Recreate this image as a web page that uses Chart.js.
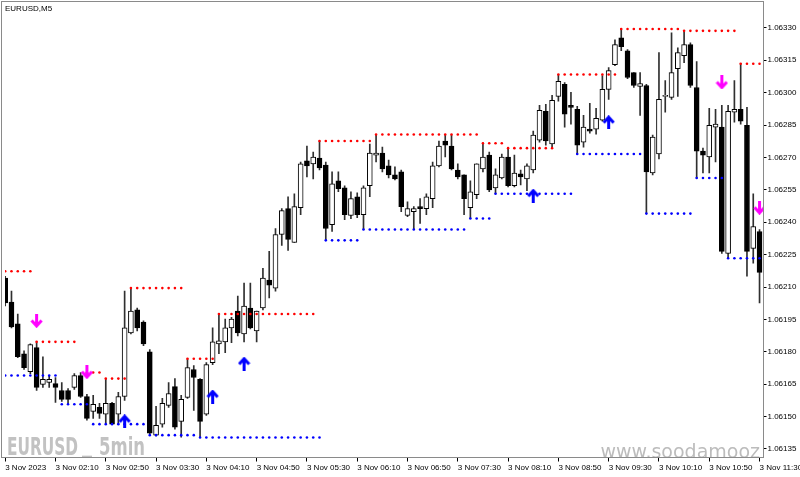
<!DOCTYPE html>
<html>
<head>
<meta charset="utf-8">
<script src="https://cdn.jsdelivr.net/npm/chart.js@4.4.0/dist/chart.umd.min.js"></script>
<style>
  html, body { margin: 0; padding: 0; background: #fff; }
  canvas { display: block; }
</style>
</head>
<body>
<canvas id="chart" width="800" height="477"></canvas>
<script>
// EURUSD M5, 3 Nov 2023 01:30 .. 11:30, one candle per 5 minutes (index 0..120)
const opens = [
  1.062141, 1.062030, 1.061929, 1.061791, 1.061708, 1.061819, 1.061649, 1.061658, 1.061653, 1.061621,
  1.061621, 1.061635, 1.061690, 1.061593, 1.061524, 1.061543, 1.061511, 1.061561, 1.061511, 1.061593,
  1.061888, 1.061994, 1.061938, 1.061800, 1.061414, 1.061465, 1.061552, 1.061639, 1.061478, 1.061589,
  1.061718, 1.061672, 1.061511, 1.061750, 1.061837, 1.061846, 1.061911, 1.061989, 1.061883, 1.062003,
  1.061897, 1.062003, 1.062132, 1.062095, 1.062343, 1.062463, 1.062306, 1.062467, 1.062684, 1.062670,
  1.062697, 1.062665, 1.062389, 1.062592, 1.062559, 1.062431, 1.062518, 1.062435, 1.062569, 1.062711,
  1.062720, 1.062661, 1.062619, 1.062633, 1.062431, 1.062449, 1.062472, 1.062463, 1.062509, 1.062661,
  1.062776, 1.062753, 1.062642, 1.062619, 1.062467, 1.062527, 1.062647, 1.062711, 1.062559, 1.062605,
  1.062702, 1.062569, 1.062624, 1.062601, 1.062642, 1.062780, 1.062914, 1.062762, 1.062983, 1.063038,
  1.062941, 1.062923, 1.062771, 1.062831, 1.062831, 1.062872, 1.063015, 1.063130, 1.063254, 1.063194,
  1.063093, 1.063029, 1.063033, 1.062628, 1.062716, 1.062983, 1.062978, 1.063111, 1.063171, 1.063222,
  1.063024, 1.062729, 1.062702, 1.062840, 1.062840, 1.062256, 1.062909, 1.062923, 1.062849, 1.062279,
  1.062357
];
const highs = [
  1.062150, 1.062081, 1.061975, 1.061805, 1.061837, 1.061846, 1.061777, 1.061690, 1.061681, 1.061658,
  1.061630, 1.061699, 1.061704, 1.061603, 1.061598, 1.061561, 1.061676, 1.061566, 1.061612, 1.062081,
  1.062095, 1.062003, 1.061943, 1.061810, 1.061547, 1.061584, 1.061658, 1.061676, 1.061598, 1.061768,
  1.061736, 1.061676, 1.061750, 1.061911, 1.061975, 1.061952, 1.061960, 1.062058, 1.062118, 1.062118,
  1.061989, 1.062187, 1.062265, 1.062371, 1.062463, 1.062518, 1.062532, 1.062679, 1.062753, 1.062725,
  1.062776, 1.062679, 1.062633, 1.062633, 1.062569, 1.062541, 1.062536, 1.062569, 1.062762, 1.062806,
  1.062748, 1.062688, 1.062656, 1.062642, 1.062495, 1.062472, 1.062509, 1.062532, 1.062679, 1.062776,
  1.062803, 1.062803, 1.062670, 1.062619, 1.062592, 1.062670, 1.062766, 1.062725, 1.062647, 1.062716,
  1.062743, 1.062711, 1.062642, 1.062670, 1.062822, 1.062941, 1.062946, 1.062987, 1.063084, 1.063047,
  1.063001, 1.062937, 1.062895, 1.062950, 1.062927, 1.063079, 1.063116, 1.063245, 1.063295, 1.063199,
  1.063093, 1.063093, 1.063038, 1.062803, 1.063185, 1.063056, 1.063277, 1.063208, 1.063286, 1.063231,
  1.063144, 1.062743, 1.062927, 1.062923, 1.062941, 1.062941, 1.063056, 1.063134, 1.062932, 1.062532,
  1.062366
];
const lows = [
  1.062012, 1.061911, 1.061773, 1.061718, 1.061699, 1.061621, 1.061635, 1.061635, 1.061566, 1.061570,
  1.061557, 1.061626, 1.061589, 1.061483, 1.061492, 1.061492, 1.061469, 1.061465, 1.061465, 1.061575,
  1.061883, 1.061897, 1.061828, 1.061414, 1.061410, 1.061451, 1.061543, 1.061442, 1.061405, 1.061584,
  1.061529, 1.061403, 1.061506, 1.061741, 1.061791, 1.061796, 1.061842, 1.061874, 1.061846, 1.061906,
  1.061846, 1.061994, 1.062049, 1.062081, 1.062293, 1.062270, 1.062306, 1.062435, 1.062610, 1.062601,
  1.062642, 1.062316, 1.062357, 1.062541, 1.062412, 1.062417, 1.062421, 1.062366, 1.062518, 1.062679,
  1.062633, 1.062605, 1.062596, 1.062449, 1.062426, 1.062366, 1.062394, 1.062435, 1.062467, 1.062656,
  1.062702, 1.062642, 1.062601, 1.062435, 1.062417, 1.062509, 1.062633, 1.062541, 1.062532, 1.062601,
  1.062564, 1.062564, 1.062573, 1.062546, 1.062628, 1.062771, 1.062757, 1.062743, 1.062960, 1.062840,
  1.062854, 1.062716, 1.062748, 1.062812, 1.062808, 1.062868, 1.062969, 1.063125, 1.063194, 1.063065,
  1.063024, 1.062895, 1.062440, 1.062619, 1.062693, 1.062909, 1.062969, 1.062983, 1.063139, 1.063024,
  1.062605, 1.062628, 1.062628, 1.062679, 1.062256, 1.062233, 1.062863, 1.062854, 1.062150, 1.062210,
  1.062026
];
const closes = [
  1.062026, 1.061915, 1.061777, 1.061727, 1.061833, 1.061635, 1.061672, 1.061672, 1.061635, 1.061580,
  1.061580, 1.061690, 1.061593, 1.061492, 1.061557, 1.061515, 1.061561, 1.061465, 1.061593, 1.061911,
  1.061989, 1.061911, 1.061837, 1.061423, 1.061460, 1.061561, 1.061607, 1.061451, 1.061580, 1.061727,
  1.061681, 1.061478, 1.061741, 1.061846, 1.061851, 1.061911, 1.061952, 1.061888, 1.062012, 1.061911,
  1.061989, 1.062141, 1.062109, 1.062343, 1.062454, 1.062320, 1.062472, 1.062670, 1.062661, 1.062702,
  1.062651, 1.062371, 1.062578, 1.062555, 1.062435, 1.062509, 1.062435, 1.062559, 1.062720, 1.062720,
  1.062647, 1.062619, 1.062601, 1.062472, 1.062463, 1.062463, 1.062463, 1.062518, 1.062661, 1.062753,
  1.062757, 1.062647, 1.062610, 1.062509, 1.062541, 1.062670, 1.062702, 1.062550, 1.062619, 1.062702,
  1.062569, 1.062628, 1.062610, 1.062661, 1.062803, 1.062918, 1.062776, 1.062964, 1.063052, 1.062900,
  1.062932, 1.062757, 1.062840, 1.062822, 1.062881, 1.063015, 1.063102, 1.063222, 1.063213, 1.063070,
  1.063033, 1.063042, 1.062633, 1.062794, 1.062969, 1.062987, 1.063093, 1.063185, 1.063222, 1.063033,
  1.062729, 1.062711, 1.062849, 1.062854, 1.062265, 1.062914, 1.062923, 1.062868, 1.062265, 1.062380,
  1.062168
];

// indicator levels: [first bar, last bar, price]
const resistanceLevels = [
  [0, 4, 1.062173], [5, 11, 1.061846], [13, 15, 1.061704], [16, 19, 1.061676],
  [20, 28, 1.062095], [29, 33, 1.061768], [34, 49, 1.061975], [50, 58, 1.062776],
  [59, 75, 1.062806], [76, 79, 1.062766], [80, 87, 1.062743], [88, 97, 1.063084],
  [98, 107, 1.063295], [108, 116, 1.063286], [117, 120, 1.063134]
];
const supportLevels = [
  [0, 8, 1.061690], [9, 13, 1.061557], [14, 22, 1.061465], [23, 30, 1.061414],
  [31, 50, 1.061403], [51, 56, 1.062316], [57, 73, 1.062366], [74, 77, 1.062417],
  [78, 90, 1.062532], [91, 101, 1.062716], [102, 109, 1.062440], [110, 114, 1.062605],
  [115, 120, 1.062233]
];

// signal arrows: [bar, price]
const buyArrows = [[19, 1.061478], [33, 1.061593], [38, 1.061745], [84, 1.062523], [96, 1.062863]];
const sellArrows = [[5, 1.061943], [13, 1.061706], [114, 1.063047], [120, 1.062467]];

// axis ticks
const timeTickBars = [0, 8, 16, 24, 32, 40, 48, 56, 64, 72, 80, 88, 96, 104, 112, 120];
const timeTickLabels = [
  '3 Nov 2023', '3 Nov 02:10', '3 Nov 02:50', '3 Nov 03:30', '3 Nov 04:10', '3 Nov 04:50',
  '3 Nov 05:30', '3 Nov 06:10', '3 Nov 06:50', '3 Nov 07:30', '3 Nov 08:10', '3 Nov 08:50',
  '3 Nov 09:30', '3 Nov 10:10', '3 Nov 10:50', '3 Nov 11:30'
];
const priceTicks = [
  1.06135, 1.06150, 1.06165, 1.06180, 1.06195, 1.06210, 1.06225,
  1.06240, 1.06255, 1.06270, 1.06285, 1.06300, 1.06315, 1.06330
];

const FONT = 'Liberation Sans';

function levelPoints(levels) {
  const pts = [];
  levels.forEach(([a, b, v]) => {
    for (let i = a; i <= b; i++) pts.push({ x: i, y: v });
  });
  return pts;
}

function makeArrow(color, down) {
  const c = document.createElement('canvas');
  c.width = 13;
  c.height = 14;
  const g = c.getContext('2d');
  if (down) {
    g.translate(0, 14);
    g.scale(1, -1);
  }
  g.strokeStyle = color;
  g.fillStyle = color;
  g.lineWidth = 3;
  g.beginPath();
  g.moveTo(1.5, 7.5);
  g.lineTo(6.5, 2);
  g.lineTo(11.5, 7.5);
  g.stroke();
  g.fillRect(5, 2, 3, 12);
  return c;
}

const bodies = opens.map((o, i) => ({ x: i, y: [o, closes[i]] }));
const wicks = opens.map((o, i) => ({ x: i, y: [lows[i], highs[i]] }));
const bodyColors = opens.map((o, i) => (closes[i] >= o ? '#ffffff' : '#000000'));

const decor = {
  id: 'decor',
  beforeDraw(chart) {
    const ctx = chart.ctx;
    ctx.save();
    ctx.fillStyle = '#ffffff';
    ctx.fillRect(0, 0, chart.width, chart.height);
    ctx.restore();
  },
  beforeDatasetsDraw(chart) {
    const ctx = chart.ctx;
    ctx.save();
    // watermarks
    ctx.fillStyle = '#c2c2c2';
    ctx.font = 'bold 24px "DejaVu Sans Condensed", "DejaVu Sans"';
    const fit = (text, x, y, w) => {
      const m = ctx.measureText(text).width;
      ctx.save();
      ctx.translate(x, y);
      ctx.scale(w / m, 1);
      ctx.fillText(text, 0, 0);
      ctx.restore();
    };
    fit('EURUSD', 7, 455, 71);
    fit('_', 82, 452, 10);
    fit('5min', 99, 455, 46);
    ctx.fillStyle = '#bcbcbc';
    ctx.font = '19px "DejaVu Sans"';
    ctx.textAlign = 'right';
    ctx.fillText('www.soodamooz', 760, 458);
    ctx.restore();
  },
  afterDraw(chart) {
    const ctx = chart.ctx;
    const a = chart.chartArea;
    ctx.save();
    ctx.strokeStyle = '#8a8a8a';
    ctx.lineWidth = 1;
    ctx.strokeRect(1.5, 1.5, a.right - 1.5, a.bottom - 1.5);
    ctx.fillStyle = '#000000';
    ctx.font = '8px "' + FONT + '"';
    ctx.fillText('EURUSD,M5', 5, 11);
    ctx.restore();
  }
};

new Chart(document.getElementById('chart').getContext('2d'), {
  type: 'bar',
  data: {
    datasets: [
      {
        type: 'line', label: 'buy', data: buyArrows.map(([x, y]) => ({ x, y })),
        showLine: false, pointStyle: makeArrow('#0000ff', false), order: 0
      },
      {
        type: 'line', label: 'sell', data: sellArrows.map(([x, y]) => ({ x, y })),
        showLine: false, pointStyle: makeArrow('#ff00ff', true), order: 0
      },
      {
        type: 'line', label: 'resistance', data: levelPoints(resistanceLevels),
        showLine: false, pointRadius: 1.3, pointBorderWidth: 0,
        pointBackgroundColor: '#ff0000', order: 1
      },
      {
        type: 'line', label: 'support', data: levelPoints(supportLevels),
        showLine: false, pointRadius: 1.3, pointBorderWidth: 0,
        pointBackgroundColor: '#0000ff', order: 1
      },
      {
        type: 'bar', label: 'body', data: bodies,
        backgroundColor: bodyColors, borderColor: '#000000', borderWidth: 1,
        borderSkipped: false, barThickness: 5, grouped: false, order: 2
      },
      {
        type: 'bar', label: 'wick', data: wicks,
        backgroundColor: '#303030', barThickness: 1, grouped: false, order: 3
      }
    ]
  },
  options: {
    responsive: false,
    animation: false,
    devicePixelRatio: 1,
    layout: { padding: { left: 2, top: 2, right: 0, bottom: 0 } },
    plugins: { legend: { display: false }, tooltip: { enabled: false } },
    scales: {
      x: {
        type: 'linear',
        min: -0.03,
        max: 120.63,
        offset: false,
        afterBuildTicks: s => { s.ticks = timeTickBars.map(v => ({ value: v })); },
        afterFit: s => { s.height = 19.5; s.paddingLeft = 0; s.paddingRight = 0; },
        grid: { drawOnChartArea: false, drawTicks: true, tickLength: 4, color: '#000000', offset: false },
        border: { display: true, color: '#8a8a8a' },
        ticks: {
          autoSkip: false, maxRotation: 0, align: 'start', padding: 1,
          color: '#000000', font: { family: FONT, size: 8 },
          callback: (v, i) => timeTickLabels[i]
        }
      },
      y: {
        type: 'linear',
        position: 'right',
        min: 1.0613106,
        max: 1.0634058,
        afterBuildTicks: s => { s.ticks = priceTicks.map(v => ({ value: v })); },
        afterFit: s => { s.width = 36.5; s.paddingTop = 0; s.paddingBottom = 0; },
        grid: { drawOnChartArea: false, drawTicks: true, tickLength: 3, color: '#000000' },
        border: { display: true, color: '#8a8a8a' },
        ticks: {
          padding: 1, color: '#000000', font: { family: FONT, size: 8 },
          callback: v => v.toFixed(5)
        }
      }
    }
  },
  plugins: [decor]
});
</script>
</body>
</html>
